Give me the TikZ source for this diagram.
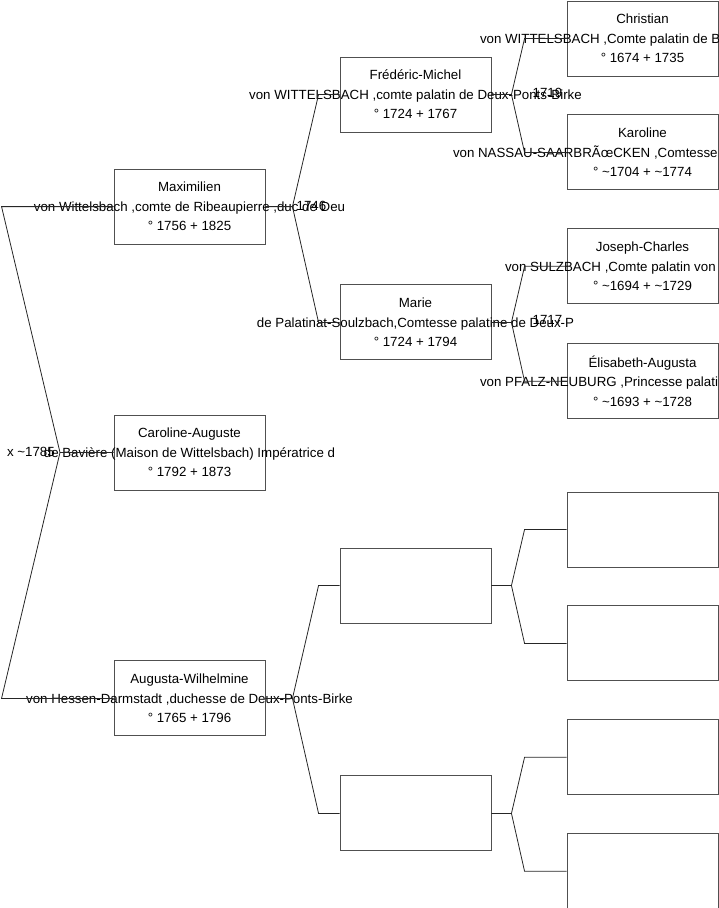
\documentclass[tikz,border=0pt]{standalone}
\usepackage{fontspec}
\setmainfont{Liberation Sans}
\usetikzlibrary{positioning}
\definecolor{BoxGray}{HTML}{505050}

% middle line of a box: may run past the box edges
\newcommand{\wide}[1]{\makebox[0pt]{#1}}
% middle line cut by the page edge: left end given relative to the centre
\newcommand{\cutoff}[2]{\makebox[0pt][l]{\hspace*{#1}#2}}
\newcommand{\ca}{\textasciitilde}

\begin{document}
\begin{tikzpicture}[x=1pt,y=-1pt,
  person/.style={draw=BoxGray,line width=0.9pt,minimum width=151pt,
    minimum height=75pt,inner sep=0pt,align=center,
    font=\fontsize{13.3}{19.5}\selectfont},
  link/.style={draw=black!85,line width=0.8pt},
  year/.style={inner sep=0pt,font=\fontsize{13.3}{15}\selectfont}
]
\useasboundingbox (0,0) rectangle (719,908);

% generation 1
\node[person] (Caro) at (189.5,452.5)
  {Caroline-Auguste\\\wide{de Bavière (Maison de Wittelsbach) Impératrice d}\\° 1792 + 1873};

% generation 2
\node[person,above=170pt of Caro] (Max)
  {Maximilien\\\wide{von Wittelsbach ,comte de Ribeaupierre ,duc de Deu}\\° 1756 + 1825};
\node[person,below=170pt of Caro] (Aug)
  {Augusta-Wilhelmine\\\wide{von Hessen-Darmstadt ,duchesse de Deux-Ponts-Birke}\\° 1765 + 1796};

% generation 3
\node[person] (Fred) at (415.5,94.5)
  {Frédéric-Michel\\\wide{von WITTELSBACH ,comte palatin de Deux-Ponts-Birke}\\° 1724 + 1767};
\node[person,below=152pt of Fred] (Marie)
  {Marie\\\wide{de Palatinat-Soulzbach,Comtesse palatine de Deux-P}\\° 1724 + 1794};
\node[person] (AugF) at (415.5,585.5) {};
\node[person,below=152pt of AugF] (AugM) {};

% generation 4
\node[person] (Chr) at (642.5,38.5)
  {Christian\\\cutoff{-162.5pt}{von WITTELSBACH ,Comte palatin de B}\\° 1674 + 1735};
\node[person,below=38pt of Chr] (Kar)
  {Karoline\\\cutoff{-189.5pt}{von NASSAU-SAARBRÃ\oe{}CKEN ,Comtesse}\\° \ca1704 + \ca1774};
\node[person,below=38pt of Kar] (JoC)
  {Joseph-Charles\\\cutoff{-137.5pt}{von SULZBACH ,Comte palatin von}\\° \ca1694 + \ca1729};
\node[person,below=39pt of JoC] (Eli)
  {Élisabeth-Augusta\\\cutoff{-162.5pt}{von PFALZ-NEUBURG ,Princesse palati}\\° \ca1693 + \ca1728};
\node[person] (u1) at (642.5,529.5) {};
\node[person,below=38pt of u1] (u2) {};
\node[person,below=38pt of u2] (u3) {};
\node[person,below=38pt of u3] (u4) {};

% forks
\coordinate (fC) at (60,452.5);
\coordinate[right=27pt of Max.east] (fM);
\coordinate[right=27pt of Aug.east] (fA);
\coordinate[right=20pt of Fred.east] (fF);
\coordinate[right=20pt of Marie.east] (fMa);
\coordinate[right=20pt of AugF.east] (fAF);
\coordinate[right=20pt of AugM.east] (fAM);

\draw[link] (Max.west) -- ++(-112,0) -- (fC) -- (Caro.west);
\draw[link] (Aug.west) -- ++(-112,0) -- (fC);

\draw[link] (Fred.west) -- ++(-21,0) -- (fM) -- (Max.east);
\draw[link] (Marie.west) -- ++(-21,0) -- (fM);
\draw[link] (AugF.west) -- ++(-21,0) -- (fA) -- (Aug.east);
\draw[link] (AugM.west) -- ++(-21,0) -- (fA);

\draw[link] (Chr.west) -- ++(-42,0) -- (fF) -- (Fred.east);
\draw[link] (Kar.west) -- ++(-42,0) -- (fF);
\draw[link] (JoC.west) -- ++(-42,0) -- (fMa) -- (Marie.east);
\draw[link] (Eli.west) -- ++(-42,0) -- (fMa);
\draw[link] (u1.west) -- ++(-42,0) -- (fAF) -- (AugF.east);
\draw[link] (u2.west) -- ++(-42,0) -- (fAF);
\draw[link] (u3.west) -- ++(-42,0) -- (fAM) -- (AugM.east);
\draw[link] (u4.west) -- ++(-42,0) -- (fAM);

% marriage years
\node[year,anchor=east] (mC) at ([xshift=-5pt,yshift=1pt]fC) {x \ca1785};
\node[year,anchor=west] (mM) at ([xshift=4pt,yshift=1pt]fM) {1746};
\node[year,anchor=west] (mF) at ([xshift=21pt,yshift=2pt]fF) {1719};
\node[year,anchor=west] (mMa) at ([xshift=21pt,yshift=2pt]fMa) {1717};
\end{tikzpicture}
\end{document}
